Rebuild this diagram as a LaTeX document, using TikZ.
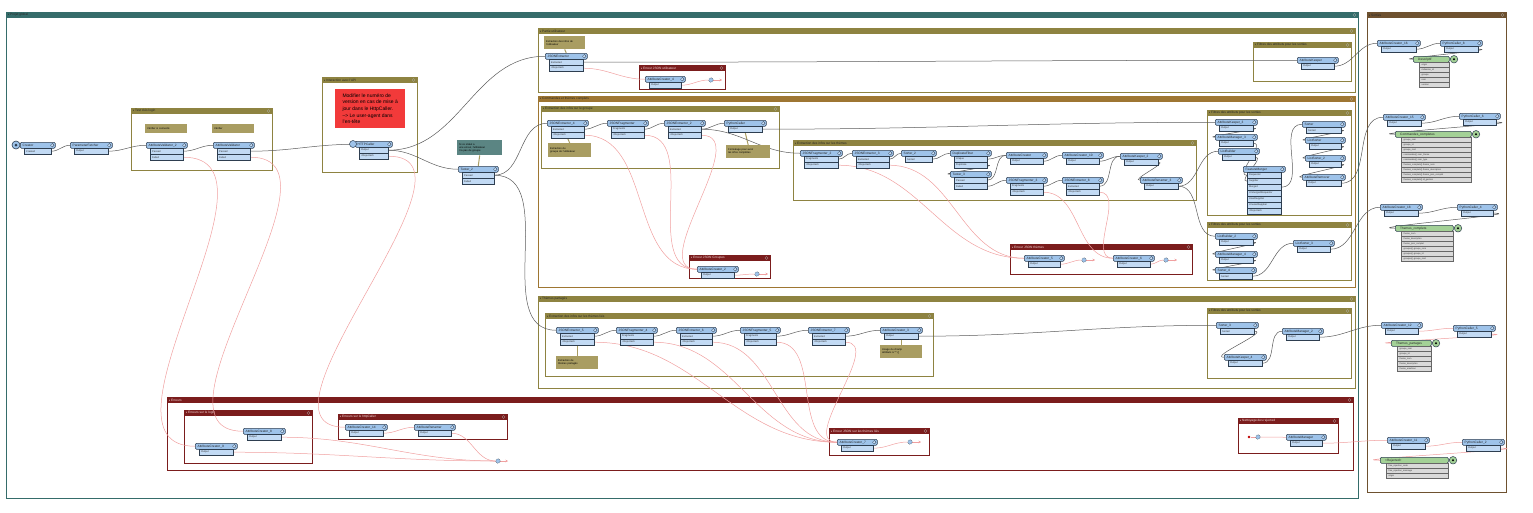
\documentclass[tikz,border=0pt]{standalone}
\usepackage{fontspec}
\setmainfont{Liberation Sans}
\usetikzlibrary{arrows.meta}
\definecolor{hblue}{HTML}{9EC3EA}
\definecolor{pblue}{HTML}{C2DAF4}
\definecolor{tfb}{HTML}{2E3E50}
\definecolor{oli}{HTML}{8E8341}
\definecolor{ora}{HTML}{9E7632}
\definecolor{bred}{HTML}{7B1D1D}
\definecolor{teal}{HTML}{356C6A}
\definecolor{sor}{HTML}{6E512F}
\definecolor{noteol}{HTML}{A99D62}
\definecolor{noteteal}{HTML}{5B8583}
\definecolor{notered}{HTML}{F23A3A}
\definecolor{ogreen}{HTML}{A3D196}
\definecolor{ogray}{HTML}{D9D9D9}
\definecolor{lkc}{HTML}{5A5A5A}
\definecolor{pkc}{HTML}{F0A0A0}
\definecolor{dtxt}{HTML}{262626}
\definecolor{ltxt}{HTML}{F2DADA}
\pgfdeclarelayer{bm}
\pgfdeclarelayer{lk}
\pgfsetlayers{bm,lk,main}
\newcommand\xf[6]{%
  \node[xhead, minimum width=#4, anchor=north west] (#1) at (#2,#3) {};
  \node[xname, anchor=west] (#1-n) at ([xshift=2.5]#1.west) {#5};
  \node[xicon] (#1-c) at ([xshift=-3.2]#1.east) {};
  \foreach \p [count=\i] in {#6} {
    \node[xport, minimum width=#4-8, anchor=north west] (#1-\i) at (#2+4,#3+6*\i) {};
    \node[xpname, anchor=west] (#1-\i t) at ([xshift=2]#1-\i.west) {\p};
  }
}
\newcommand\bmk[8]{%
  \begin{pgfonlayer}{bm}
  \draw[#6, line width=0.9] (#2,#3) rectangle (#4,#5);
  \fill[#6] (#2,#3) rectangle (#4,#3+6);
  \node[bmtitle, text=#8, anchor=west] (#1) at (#2+1.5,#3+3.1) {{\fontsize{2}{2}\selectfont▼}\,#7};
  \node[bmx] (#1-x) at (#4-3.5,#3+3) {};
  \end{pgfonlayer}
}
\newcommand\ofeat[6]{%
  \node[ohead, minimum width=#4, anchor=north west] (#1) at (#2,#3) {};
  \node[xname, anchor=west] (#1-n) at ([xshift=5]#1.west) {#5};
  \node[oport] (#1-o) at ([xshift=4.5]#1.east) {};
  \node[odot] (#1-d) at (#1-o) {};
  \foreach \a [count=\i] in {#6} {
    \node[oattr, minimum width=#4-6, anchor=north west] (#1-\i) at (#2+6,#3+1+5*\i) {};
    \node[oaname, anchor=west] (#1-\i t) at ([xshift=2.5]#1-\i.west) {\a};
  }
}
\begin{document}
\begin{tikzpicture}[x=1pt,y=-1pt,
  every node/.style={inner sep=0},
  xhead/.style={draw=tfb, fill=hblue, rounded corners=1.2, minimum height=6, line width=0.5},
  xname/.style={font=\fontsize{3.2}{3.4}\selectfont, text=black!85},
  xport/.style={draw=tfb, fill=pblue, minimum height=6, line width=0.4},
  xpname/.style={font=\fontsize{2.5}{3}\selectfont, text=black!80},
  xicon/.style={circle, draw=tfb, fill=pblue, minimum size=3.6, line width=0.3},
  bmtitle/.style={font=\fontsize{3.2}{3.4}\selectfont},
  bmx/.style={circle, draw=white!70!black, minimum size=3, line width=0.3},
  ohead/.style={draw=tfb, fill=ogreen, rounded corners=1.2, minimum height=6, line width=0.5},
  oport/.style={circle, draw=tfb, fill=ogreen, minimum size=7.5, line width=0.5},
  odot/.style={circle, fill=black, minimum size=2.2},
  oattr/.style={draw=black!60, fill=ogray, minimum height=5, line width=0.3},
  oaname/.style={font=\fontsize{2.2}{2.5}\selectfont, text=black!80},
  note/.style={font=\fontsize{2.6}{3}\selectfont, align=left, inner xsep=2, inner ysep=1.5, text=black},
  tail/.style={line width=1},
  junc/.style={circle, draw=black, densely dotted, fill=hblue, minimum size=4.5, line width=0.4},
  lk/.style={draw=lkc, line width=0.5},
  pk/.style={draw=pkc, line width=0.5},
  pka/.style={pk, -{Stealth[length=2.5pt,width=2.5pt]}}]
\useasboundingbox (0,0) rectangle (1533,512);

% ---------------- bookmarks
\bmk{bpg}{6}{12}{1358}{498}{teal}{Projet global}{dtxt}
\bmk{bso}{1367}{12}{1506}{492}{sor}{Sorties}{dtxt}
\bmk{btl}{131}{108}{272}{170}{oli}{Test clés login}{dtxt}
\bmk{bapi}{322}{77}{417}{172}{oli}{Interaction avec l'API}{dtxt}
\bmk{bpu}{538}{28}{1355}{92}{oli}{Partie utilisateur}{dtxt}
\bmk{beu}{639}{65}{725}{89}{bred}{Erreur JSON utilisateur}{ltxt}
\bmk{bfa}{1253}{42}{1351}{81}{oli}{Filtres des attributs pour les sorties}{dtxt}
\bmk{bct}{538}{96}{1355}{287}{ora}{Commandes et thèmes complets}{dtxt}
\bmk{beg}{541}{106}{779}{168}{oli}{Extraction des infos sur le groupe}{dtxt}
\bmk{bet}{793}{140}{1196}{200}{oli}{Extraction des infos sur les thèmes}{dtxt}
\bmk{bejg}{689}{255}{770}{278}{bred}{Erreur JSON Groupes}{ltxt}
\bmk{bejt}{1010}{244}{1192}{274}{bred}{Erreur JSON thèmes}{ltxt}
\bmk{bfb}{1207}{110}{1351}{215}{oli}{Filtres des attributs pour les sorties}{dtxt}
\bmk{bfc}{1207}{222}{1351}{280}{oli}{Filtres des attributs pour les sorties}{dtxt}
\bmk{btp}{538}{296}{1355}{388}{oli}{Thèmes partagés}{dtxt}
\bmk{betl}{545}{313}{933}{376}{oli}{Extraction des infos sur les thèmes liés}{dtxt}
\bmk{bfd}{1207}{308}{1351}{378}{oli}{Filtres des attributs pour les sorties}{dtxt}
\bmk{ber}{167}{397}{1353}{470}{bred}{Erreurs}{ltxt}
\bmk{bel}{184}{410}{312}{463}{bred}{Erreurs sur le login}{ltxt}
\bmk{beh}{338}{414}{507}{439}{bred}{Erreurs sur le httpCaller}{ltxt}
\bmk{bejl}{829}{428}{929}{455}{bred}{Erreur JSON sur les thèmes liés}{ltxt}
\bmk{bnr}{1238}{418}{1338}{453}{bred}{Nettoyage des rejected}{ltxt}

% ---------------- notes
\node[note, fill=noteol, text width=38, minimum height=9, anchor=north west] (n1) at (145,124) {Vérifier si connecté};
\node[note, fill=noteol, text width=38, minimum height=9, anchor=north west] (n2) at (212,124) {Vérifier};
\node[note, fill=notered, minimum width=70, minimum height=39, anchor=north west, font=\fontsize{5}{6.6}\selectfont, inner xsep=3.5, inner ysep=2.5] (n3) at (335,89) {Modifier le numéro de\\version en cas de mise à\\jour dans le HttpCaller.\\--> Le user-agent dans\\l'en-tête};
\node[note, fill=noteteal, text width=41, minimum height=15, anchor=north west] (n4) at (457,140) {Si ce statut a\\une erreur, l'utilisateur\\n'a pas de groupe};
\node[note, fill=noteol, text width=37, minimum height=13, anchor=north west] (n5) at (544,36) {Extraction des infos de\\l'utilisateur};
\node[note, fill=noteol, text width=39, minimum height=14, anchor=north west] (n6) at (548,143) {Extraction du\\groupe de l'utilisateur};
\node[note, fill=noteol, text width=40, minimum height=13, anchor=north west] (n7) at (726,145) {Formatage pour avoir\\les infos complètes};
\node[note, fill=noteol, text width=38, minimum height=13, anchor=north west] (n8) at (556,356) {Extraction de\\thèmes partagés};
\node[note, fill=noteol, text width=38, minimum height=13, anchor=north west] (n9) at (880,345) {Usage du champ\\attributs à ** ()};

% ---------------- transformers
\xf{cr}{20}{142}{35}{Creator}{Created}
\node[circle, draw=tfb, fill=hblue, minimum size=8, line width=0.6] (cr-i) at (16,145) {};
\node[circle, fill=tfb, minimum size=3] (cr-id) at (16,145) {};
\xf{pf}{70}{142}{42}{ParameterFetcher}{Output}
\xf{avb}{146}{142}{41}{AttributeValidator\_2}{Passed,Failed}
\xf{ava}{213}{142}{41}{AttributeValidator}{Passed,Failed}
\xf{http}{355}{141}{37}{HTTPCaller}{Output,<Rejected>}
\node[circle, draw=tfb, fill=hblue, minimum size=7, line width=0.5] (http-i) at (353,144) {};
\xf{tb}{458}{166}{40}{Tester\_2}{Passed,Failed}

\xf{je}{545}{53}{42}{JSONExtractor}{Extracted,<Rejected>}
\xf{acd}{645}{76}{40}{AttributeCreator\_4}{Output}
\xf{ak}{1297}{57}{41}{AttributeKeeper}{Output}

\xf{jed}{547}{120}{41}{JSONExtractor\_4}{Extracted,<Rejected>}
\xf{jf}{607}{120}{41}{JSONFragmenter}{Fragments,<Rejected>}
\xf{jeb}{664}{120}{41}{JSONExtractor\_2}{Extracted,<Rejected>}
\xf{pc}{724}{120}{42}{PythonCaller}{Output}
\xf{acb}{697}{266}{41}{AttributeCreator\_2}{Output}

\xf{jfb}{800}{150}{42}{JSONFragmenter\_2}{Fragments,<Rejected>}
\xf{jec}{852}{150}{41}{JSONExtractor\_3}{Extracted,<Rejected>}
\xf{sob}{901}{150}{35}{Sorter\_2}{Sorted}
\xf{df}{950}{150}{41}{DuplicateFilter}{Unique,Duplicate}
\xf{tc}{950}{171}{41}{Tester\_3}{Passed,Failed}
\xf{ac}{1006}{152}{41}{AttributeCreator}{Output}
\xf{acj}{1062}{152}{41}{AttributeCreator\_10}{Output}
\xf{akb}{1120}{153}{42}{AttributeKeeper\_2}{Output}
\xf{arc}{1140}{177}{42}{AttributeRenamer\_3}{Output}
\xf{jfc}{1006}{177}{41}{JSONFragmenter\_3}{Fragments,<Rejected>}
\xf{jeh}{1062}{177}{41}{JSONExtractor\_8}{Extracted,<Rejected>}
\xf{ace}{1024}{255}{40}{AttributeCreator\_5}{Output}
\xf{acf}{1113}{255}{41}{AttributeCreator\_6}{Output}

\xf{akc}{1215}{119}{42}{AttributeKeeper\_3}{Output}
\xf{amc}{1215}{134}{42}{AttributeManager\_3}{Output}
\xf{lb}{1218}{148}{41}{ListBuilder}{Output}
\xf{fm}{1243}{166}{42}{FeatureMerger}{Requestor,Supplier,Merged,UnmergedRequestor,UsedSupplier,UnusedSupplier,<Rejected>}
\xf{so}{1302}{121}{43}{Sorter}{Sorted}
\xf{ls}{1305}{137}{40}{ListSorter}{Output}
\xf{lsb}{1305}{155}{40}{ListSorter\_2}{Output}
\xf{arm}{1302}{174}{43}{AttributeRemover}{Output}
\xf{lbb}{1215}{233}{42}{ListBuilder\_2}{Output}
\xf{amd}{1215}{251}{42}{AttributeManager\_4}{Output}
\xf{sod}{1215}{267}{41}{Sorter\_4}{Sorted}
\xf{lsc}{1293}{240}{41}{ListSorter\_3}{Output}

\xf{jee}{556}{327}{42}{JSONExtractor\_5}{Extracted,<Rejected>}
\xf{jfd}{616}{327}{41}{JSONFragmenter\_4}{Fragments,<Rejected>}
\xf{jef}{676}{327}{40}{JSONExtractor\_6}{Extracted,<Rejected>}
\xf{jfe}{740}{327}{40}{JSONFragmenter\_5}{Fragments,<Rejected>}
\xf{jeg}{808}{327}{41}{JSONExtractor\_7}{Extracted,<Rejected>}
\xf{acc}{880}{327}{42}{AttributeCreator\_3}{Output}
\xf{soc}{1216}{322}{42}{Sorter\_3}{Sorted}
\xf{akd}{1224}{354}{42}{AttributeKeeper\_4}{Output}
\xf{amb}{1282}{328}{41}{AttributeManager\_2}{Output}

\xf{acp}{1377}{40}{43}{AttributeCreator\_16}{Output}
\xf{pch}{1440}{40}{42}{PythonCaller\_8}{Output}
\xf{aco}{1383}{114}{42}{AttributeCreator\_15}{Output}
\xf{pcf}{1459}{113}{41}{PythonCaller\_6}{Output}
\xf{acr}{1380}{204}{42}{AttributeCreator\_18}{Output}
\xf{pcd}{1457}{204}{40}{PythonCaller\_4}{Output}
\xf{acl}{1381}{322}{41}{AttributeCreator\_12}{Output}
\xf{pce}{1453}{325}{42}{PythonCaller\_5}{Output}
\xf{ack}{1387}{437}{42}{AttributeCreator\_11}{Output}
\xf{pcb}{1462}{439}{42}{PythonCaller\_2}{Output}

\xf{ach}{243}{428}{42}{AttributeCreator\_8}{Output}
\xf{aci}{195}{443}{42}{AttributeCreator\_9}{Output}
\xf{acn}{345}{424}{42}{AttributeCreator\_14}{Output}
\xf{ar}{414}{424}{41}{AttributeRenamer}{Output}
\xf{acg}{837}{439}{40}{AttributeCreator\_7}{Output}
\xf{am}{1286}{434}{40}{AttributeManager}{Output}

% ---------------- output feature types
\ofeat{desc}{1413}{56}{36}{Descriptif}{origin,millesime\_id,groupe,nom,version}
\ofeat{cc}{1395}{131}{76}{Commandes\_completes}{groupe\_nom,groupe\_id,groupe\_mail,commandes\{\}.nom\_theme,commandes\{\}.nom\_type,themes\_complets\{\}.theme\_nom,themes\_complets\{\}.theme\_description,themes\_complets\{\}.theme\_json\_complet,themes\_complets\{\}.id\_gestion}
\ofeat{tcp}{1395}{225}{58}{Themes\_complets}{theme\_nom,theme\_description,theme\_json\_complet,groupes\{\}.groupe\_nom,groupes\{\}.groupe\_id,groupes\{\}.groupe\_mail}
\ofeat{tp}{1391}{340}{40}{Themes\_partages}{groupe\_nom,groupe\_id,theme\_nom,theme\_description,theme\_emetteur}
\ofeat{rej}{1380}{457}{68}{<Rejected>}{fme\_rejection\_code,fme\_rejection\_message,origin}

% ---------------- junctions
\node[junc] (ja) at (711,80) {};
\node[junc] (jb) at (757,274) {};
\node[junc] (jc) at (1084,260) {};
\node[junc] (jd) at (1166,260) {};
\node[junc] (je5) at (910,442) {};
\node[junc] (jf6) at (498,461) {};
\node[junc] (jg) at (1258,437) {};
\coordinate (jae) at (722,80);
\coordinate (jbe) at (768,274);
\coordinate (jce) at (1095,260);
\coordinate (jde) at (1177,260);
\coordinate (jee5) at (921,442);
\coordinate (jfe6) at (508,461);
\node[circle, fill=red!75!black, minimum size=2.6] (jgs) at (1249,437) {};

% ---------------- links
\begin{pgfonlayer}{lk}
\draw[noteol, tail] (n4.south) -- (tb.north);
\draw[noteol, tail] (n5.south) -- (je.north);
\draw[noteol, tail] (n6.north) -- (jed-2.south);
\draw[noteol, tail] (n7.north) -- (pc-1.south);
\draw[noteol, tail] (n8.north) -- (jee-2.south);
\draw[noteol, tail] (n9.north) -- (acc-1.south);

\foreach \a/\b in {cr-1/pf, pf-1/avb, avb-1/ava, ava-1/http, http-1/je, http-1/tb, tb-1/jed, tb-1/jee,
  jed-1/jf, jf-1/jeb, jeb-1/pc, jeb-1/jfb, pc-1/akc, je-1/ak, ak-1/acp, acp-1/pch, pch-1/desc,
  jfb-1/jec, jec-1/sob, sob-1/df, df-1/ac, df-2/tc, tc-1/ac, tc-2/jfc, ac-1/acj, acj-1/akb, jfc-1/jeh, jeh-1/akb,
  akb-1/arc, arc-1/lb, arc-1/lbb, akc-1/amc, fm-3/so, so-1/ls, ls-1/lsb, lsb-1/arm, arm-1/aco,
  lbb-1/amd, amd-1/sod, sod-1/lsc, lsc-1/acr, aco-1/pcf, pcf-1/cc, acr-1/pcd, pcd-1/tcp,
  jee-1/jfd, jfd-1/jef, jef-1/jfe, jfe-1/jeg, jeg-1/acc, acc-1/soc, soc-1/akd, akd-1/amb, amb-1/acl}
  {\draw[lk] (\a.east) to[out=0,in=180] (\b.west);}
\draw[lk] (amc-1.east) to[out=0,in=180] (fm-1.west);
\draw[lk] (lb-1.east) to[out=0,in=180] (fm-2.west);

\foreach \a/\b in {acl-1/pce, pce-1/tp, avb-2/aci, ava-2/ach, http-2/acn, je-2/acd,
  jed-2/acb, jf-2/acb, jeb-2/acb, jfb-2/ace, jec-2/ace, jfc-2/acf, jeh-2/acf,
  jee-2/acg, jfd-2/acg, jef-2/acg, jfe-2/acg, jeg-2/acg, acn-1/ar, am-1/ack, ack-1/pcb, pcb-1/rej}
  {\draw[pk] (\a.east) to[out=0,in=180] (\b.west);}
\foreach \a/\b in {acd-1/ja, acb-1/jb, ace-1/jc, acf-1/jd, acg-1/je5, ach-1/jf6, aci-1/jf6, ar-1/jf6}
  {\draw[pk] (\a.east) to[out=0,in=180] (\b.west);}
\draw[pka] (ja) -- (jae);
\draw[pka] (jb) -- (jbe);
\draw[pka] (jc) -- (jce);
\draw[pka] (jd) -- (jde);
\draw[pka] (je5) -- (jee5);
\draw[pka] (jf6) -- (jfe6);
\draw[pk] (jgs) -- (jg);
\draw[pk] (jg) to[out=0,in=180] (am.west);
\end{pgfonlayer}
\end{tikzpicture}
\end{document}
